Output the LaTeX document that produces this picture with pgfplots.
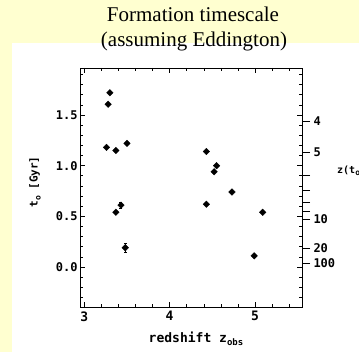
\documentclass[border=0pt]{standalone}
\usepackage{fontspec}
\setmainfont{Liberation Serif}
\newfontfamily\pf{DejaVu Sans Mono}
\usepackage{pgfplots}
\pgfplotsset{compat=1.18}
\definecolor{bgy}{RGB}{255,255,208}
\begin{document}
\begin{tikzpicture}[x=1bp,y=1bp]
\useasboundingbox (0,0) rectangle (359,352);
\fill[bgy] (0,0) rectangle (359,352);
\fill[white] (12,0) rectangle (359,309);
\node[anchor=base,inner sep=0,font=\fontsize{21bp}{25bp}\selectfont] at (193,331) {Formation timescale};
\node[anchor=base,inner sep=0,font=\fontsize{21bp}{25bp}\selectfont] at (194,306) {(assuming Eddington)};
\begin{axis}[at={(80bp,45bp)}, anchor=south west, scale only axis,
  width=222bp, height=239bp,
  xmin=2.95, xmax=5.55, ymin=-0.395, ymax=1.964,
  xtick={3,4,5},
  minor xtick={3.2,3.4,3.6,3.8,4.2,4.4,4.6,4.8,5.2,5.4},
  ytick={0,0.5,1,1.5},
  minor ytick={-0.3,-0.2,-0.1,0.1,0.2,0.3,0.4,0.6,0.7,0.8,0.9,1.1,1.2,1.3,1.4,1.6,1.7,1.8,1.9},
  tick align=inside, major tick length=5bp, minor tick length=3bp,
  every tick/.style={black, line width=0.6pt},
  axis line style={line width=0.8pt},
  /pgf/number format/assume math mode=true,
  xticklabel style={font=\pf\bfseries\fontsize{13bp}{13bp}\selectfont, yshift=-1bp},
  yticklabel style={font=\pf\bfseries\fontsize{12bp}{12bp}\selectfont, xshift=1bp,
    /pgf/number format/.cd, fixed, fixed zerofill, precision=1},
  clip=false]
\addplot[only marks, mark=square*, mark size=2.3bp, mark options={rotate=45, fill=black, draw=black},
  error bars/.cd, y dir=both, y explicit, error bar style={black, line width=0.6pt},
  error mark options={rotate=90, mark size=1.5bp, black, line width=0.6pt}]
  table[x=x, y=y, y error=e] {
x y e
3.30 1.72 0
3.28 1.606 0
3.26 1.18 0
3.37 1.15 0
3.50 1.22 0
3.43 0.61 0.03
3.37 0.54 0
3.48 0.19 0.045
4.43 1.14 0
4.55 1.00 0
4.52 0.94 0
4.73 0.74 0
4.43 0.62 0
5.09 0.54 0
4.99 0.11 0.01
};
\end{axis}
\begin{axis}[at={(80bp,45bp)}, anchor=south west, scale only axis,
  width=222bp, height=239bp,
  xmin=2.95, xmax=5.55, ymin=-0.395, ymax=1.964,
  axis y line*=right, axis x line=none,
  ytick={1.441,1.128,0.908,0.754,0.635,0.547,0.472,0.184,0.036},
  yticklabels={4,5,,,,,10,20,100},
  tick align=outside, major tick length=8bp,
  every tick/.style={black, line width=0.6pt},
  axis line style={line width=0.8pt},
  yticklabel style={font=\pf\bfseries\fontsize{12bp}{12bp}\selectfont, xshift=0bp}]
\addplot[draw=none] coordinates {(3,0)};
\end{axis}
\node[anchor=base west, inner sep=0, font=\pf\bfseries\fontsize{10bp}{10bp}\selectfont] at (337,179) {z(t\raisebox{-0.5ex}{\fontsize{8bp}{8bp}\selectfont o})};
\node[rotate=90, inner sep=0, font=\pf\bfseries\fontsize{11bp}{11bp}\selectfont] at (35,170) {t\raisebox{-0.5ex}{\fontsize{8bp}{8bp}\selectfont o} [Gyr]};
\node[anchor=base, inner sep=0, font=\pf\bfseries\fontsize{13bp}{13bp}\selectfont] at (196,10) {redshift z\raisebox{-0.5ex}{\fontsize{9bp}{9bp}\selectfont obs}};
\end{tikzpicture}
\end{document}
